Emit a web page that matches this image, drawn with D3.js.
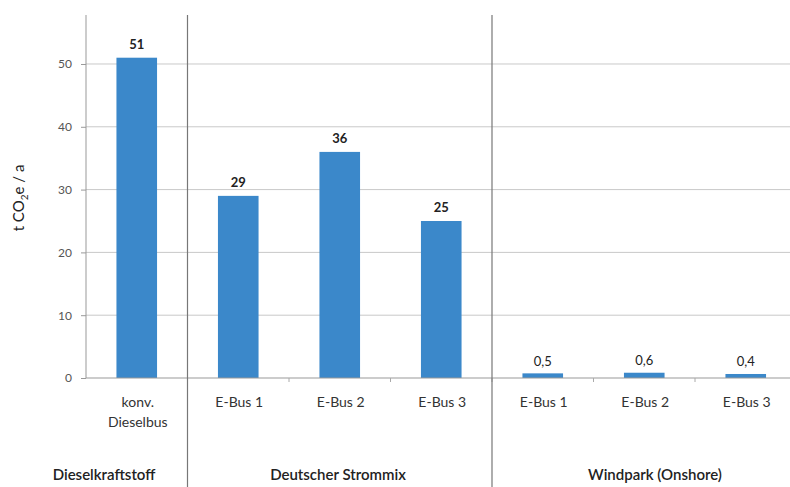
<!DOCTYPE html>
<html>
<head>
<meta charset="utf-8">
<script src="https://cdn.jsdelivr.net/npm/d3@7"></script>
<style>
  body { margin: 0; background: #fff; }
  #vis { width: 790px; height: 487px; }
  text { font-family: Lato, "Open Sans", sans-serif; }
</style>
</head>
<body>
<div id="vis"></div>
<script>
// data
var categories = ['konv.|Dieselbus', 'E-Bus 1', 'E-Bus 2', 'E-Bus 3', 'E-Bus 1', 'E-Bus 2', 'E-Bus 3'];
var values = [51, 29, 36, 25, 0.5, 0.6, 0.4];
var valueLabels = ['51', '29', '36', '25', '0,5', '0,6', '0,4'];
var groups = ['Dieselkraftstoff', 'Deutscher Strommix', 'Windpark (Onshore)'];
var groupSizes = [1, 3, 3];
var groupLabelX = [104, 338, 655];
var yTicks = [0, 10, 20, 30, 40, 50];

var width = 790, height = 487;
var margin = { top: 15, left: 86, bottom: 109 };
var plotBottom = height - margin.bottom;

var svg = d3.select('#vis')
    .append('svg')
    .attr('width', width)
    .attr('height', height);

var x_scale = d3.scaleBand()
    .domain(d3.range(categories.length))
    .range([margin.left, margin.left + 101.5 * categories.length])
    .paddingInner(0.6)
    .paddingOuter(0.3);

var step = x_scale.step();
var x0 = margin.left;

var y_scale = d3.scaleLinear()
    .domain([0, 57.8])
    .range([plotBottom, margin.top]);

// gridlines
svg.append('g')
    .selectAll('line')
    .data(yTicks.slice(1))
    .enter()
    .append('line')
    .attr('x1', x0)
    .attr('x2', width)
    .attr('y1', function(d) { return y_scale(d); })
    .attr('y2', function(d) { return y_scale(d); })
    .attr('stroke', '#c9c9c9')
    .attr('stroke-width', 1);

// y axis
var y_axis = d3.axisLeft(y_scale)
    .tickValues(yTicks)
    .tickSize(5)
    .tickPadding(9);

var yg = svg.append('g')
    .attr('transform', 'translate(' + x0 + ',0)')
    .call(y_axis);
yg.select('.domain').remove();
yg.selectAll('line').attr('stroke', '#999');
yg.selectAll('text')
    .attr('fill', '#555')
    .style('font-size', '12px')
    .style('font-family', 'Lato, sans-serif');

svg.append('line')
    .attr('x1', x0).attr('x2', x0)
    .attr('y1', margin.top).attr('y2', plotBottom)
    .attr('stroke', '#999');

// bars
svg.selectAll('.bar')
    .data(values)
    .enter()
    .append('rect')
    .attr('class', 'bar')
    .attr('x', function(d, i) { return x_scale(i); })
    .attr('width', x_scale.bandwidth())
    .attr('y', function(d) { return y_scale(d) - (d < 1 ? 1.5 : 0); })
    .attr('height', function(d) { return plotBottom - y_scale(d) + (d < 1 ? 1.5 : 0); })
    .attr('fill', '#3b88ca');

// x axis baseline and ticks at category boundaries
svg.append('line')
    .attr('x1', x0).attr('x2', width)
    .attr('y1', plotBottom).attr('y2', plotBottom)
    .attr('stroke', '#999');

svg.append('g')
    .selectAll('line')
    .data(d3.range(1, categories.length))
    .enter()
    .append('line')
    .attr('x1', function(i) { return x0 + i * step; })
    .attr('x2', function(i) { return x0 + i * step; })
    .attr('y1', plotBottom)
    .attr('y2', plotBottom + 4)
    .attr('stroke', '#aaa');

// value labels
svg.selectAll('.vlabel')
    .data(values)
    .enter()
    .append('text')
    .attr('class', 'vlabel')
    .attr('x', function(d, i) { return x_scale(i) + x_scale.bandwidth() / 2; })
    .attr('y', function(d) { return y_scale(d) - 9; })
    .attr('text-anchor', 'middle')
    .style('font-size', '13px')
    .style('font-weight', function(d) { return d < 1 ? 'normal' : 'bold'; })
    .attr('fill', '#222')
    .text(function(d, i) { return valueLabels[i]; });

// category labels
var cl = svg.selectAll('.clabel')
    .data(categories)
    .enter()
    .append('text')
    .attr('class', 'clabel')
    .attr('x', function(d, i) { return x_scale(i) + x_scale.bandwidth() / 2 + 1; })
    .attr('y', plotBottom + 29)
    .attr('text-anchor', 'middle')
    .style('font-size', '14px')
    .attr('fill', '#333');

cl.each(function(d) {
    var parts = d.split('|');
    var t = d3.select(this);
    parts.forEach(function(p, k) {
        t.append('tspan')
            .attr('x', t.attr('x'))
            .attr('dy', k === 0 ? 0 : 20)
            .text(p);
    });
});

// group separators and labels
var cum = [0];
groupSizes.forEach(function(s, i) { cum.push(cum[i] + s); });

svg.append('g')
    .selectAll('line')
    .data(cum.slice(1, -1))
    .enter()
    .append('line')
    .attr('x1', function(c) { return x0 + c * step; })
    .attr('x2', function(c) { return x0 + c * step; })
    .attr('y1', margin.top)
    .attr('y2', height)
    .attr('stroke', '#777')
    .attr('stroke-width', 1.2);

svg.selectAll('.glabel')
    .data(groups)
    .enter()
    .append('text')
    .attr('class', 'glabel')
    .attr('x', function(d, i) { return groupLabelX[i]; })
    .attr('y', 480)
    .attr('text-anchor', 'middle')
    .style('font-size', '15px')
    .style('font-weight', '600')
    .attr('fill', '#222')
    .text(function(d) { return d; });

// y axis title
var yt = svg.append('text')
    .attr('transform', 'translate(24,198) rotate(-90)')
    .attr('text-anchor', 'middle')
    .style('font-size', '15px')
    .attr('fill', '#222');
yt.append('tspan').text('t CO');
yt.append('tspan').attr('dy', 4).style('font-size', '10px').text('2');
yt.append('tspan').attr('dy', -4).text('e / a');
</script>
</body>
</html>
